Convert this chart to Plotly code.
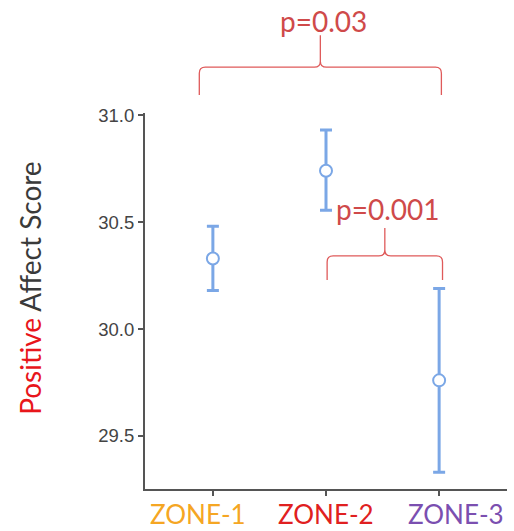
import plotly.graph_objects as go

# ---- data ----
zones = ["ZONE-1", "ZONE-2", "ZONE-3"]
means = [30.33, 30.74, 29.76]
upper = [30.48, 30.93, 30.19]
lower = [30.18, 30.555, 29.33]
zone_colors = ["#f5a623", "#e02020", "#7b4fb0"]
y_ticks = [29.5, 30.0, 30.5, 31.0]
comparisons = [("ZONE-1", "ZONE-3", "p=0.03"), ("ZONE-2", "ZONE-3", "p=0.001")]

# ---- style / layout constants ----
W, H = 514, 531
ML, MR, MT, MB = 145, 7, 113, 42
bracket_geom = [  # (left pad, right pad, base, arm level, tip top, text y) in paper units
    (-0.12, 0.02, 1.048, 1.122, 1.207, 1.245),
    (0.01, 0.03, 0.556, 0.620, 0.694, 0.745),
]
label_shift = [-0.13, 0.0, 0.15]   # x-label offsets (category units)
blue = "#7ba7e6"
red_line = "#df5a5a"
red_text = "#cf4a4a"

xi = list(range(len(zones)))
err_plus = [u - m for u, m in zip(upper, means)]
err_minus = [m - l for m, l in zip(means, lower)]

fig = go.Figure()
fig.add_trace(go.Scatter(
    x=xi, y=means, mode="markers",
    marker=dict(size=12, color="white", line=dict(color=blue, width=2)),
    error_y=dict(type="data", symmetric=False, array=err_plus, arrayminus=err_minus,
                 color=blue, thickness=3, width=6),
    showlegend=False, cliponaxis=False,
))

shapes = []
annotations = []
pw = W - ML - MR
rx = 6 / (pw / 3.2)      # corner radius in x data units
ph = H - MT - MB
ry = 6 / ph              # corner radius in paper units
for (a, b, label), (lp, rp, base, arm, tip, ty) in zip(comparisons, bracket_geom):
    x0 = zones.index(a) + lp
    x1 = zones.index(b) + rp
    xm = (x0 + x1) / 2
    path = (f"M {x0},{base} L {x0},{arm - ry} Q {x0},{arm} {x0 + rx},{arm} "
            f"L {xm - rx},{arm} Q {xm},{arm} {xm},{arm + ry} L {xm},{tip} "
            f"M {xm},{arm + ry} Q {xm},{arm} {xm + rx},{arm} "
            f"L {x1 - rx},{arm} Q {x1},{arm} {x1},{arm - ry} L {x1},{base}")
    shapes.append(dict(type="path", xref="x", yref="paper", path=path,
                       line=dict(color=red_line, width=1.3)))
    annotations.append(dict(x=xm + 0.03, y=ty, xref="x", yref="paper", text=label,
                            showarrow=False, xanchor="center", yanchor="middle",
                            font=dict(family="Lato", size=28, color=red_text)))

for i, (z, c, s) in enumerate(zip(zones, zone_colors, label_shift)):
    annotations.append(dict(x=i + s, y=-0.066, xref="x", yref="paper", text=z,
                            showarrow=False, xanchor="center", yanchor="middle",
                            font=dict(family="Lato", size=26, color=c)))

annotations.append(dict(
    x=(30 - ML) / pw, y=0.535, xref="paper", yref="paper", textangle=-90,
    text="<span style='color:#e8161b'>Positive</span> Affect Score",
    showarrow=False, xanchor="center", yanchor="middle",
    font=dict(family="Lato", size=28, color="#3a3a3a"),
))

fig.update_layout(
    template="none",
    width=W, height=H,
    margin=dict(l=ML, r=MR, t=MT, b=MB),
    paper_bgcolor="white", plot_bgcolor="white",
    shapes=shapes, annotations=annotations,
    xaxis=dict(
        range=[-0.6, 2.6], tickmode="array", tickvals=xi, showticklabels=False,
        showline=True, linecolor="#555555", linewidth=2, automargin=False,
        ticks="outside", ticklen=5, tickwidth=2, tickcolor="#555555",
        showgrid=False, zeroline=False,
    ),
    yaxis=dict(
        range=[29.252, 31.01], tickmode="array", tickvals=y_ticks,
        ticktext=[f"{v:.1f}" for v in y_ticks], automargin=False,
        showline=True, linecolor="#555555", linewidth=2,
        ticks="outside", ticklen=5, tickwidth=2, tickcolor="#555555",
        showgrid=False, zeroline=False,
        tickfont=dict(family="Liberation Sans", size=18.5, color="#444444"),
    ),
)

fig.write_html("out.html", config={"displayModeBar": False},
               post_script="document.body.style.margin='0';")
